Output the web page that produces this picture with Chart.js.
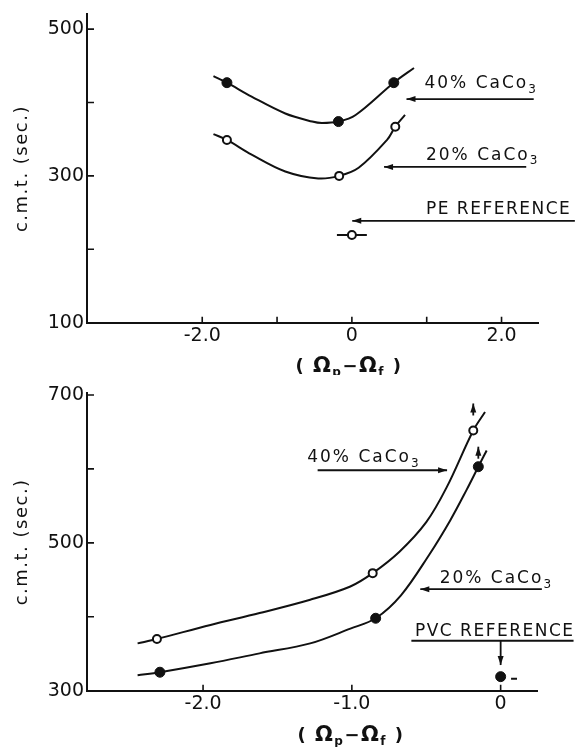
<!DOCTYPE html>
<html>
<head>
<meta charset="utf-8">
<script src="https://cdn.jsdelivr.net/npm/chart.js@4.4.1/dist/chart.umd.min.js"></script>
<style>
  html, body { margin: 0; padding: 0; background: #fff; }
  .panel { position: absolute; left: 0; width: 576px; }
  #topPanel { top: 0; height: 375px; }
  #botPanel { top: 375px; height: 372px; }
</style>
</head>
<body>
<div class="panel" id="topPanel"><canvas id="topChart" width="576" height="375"></canvas></div>
<div class="panel" id="botPanel"><canvas id="botChart" width="576" height="372"></canvas></div>
<script>
const INK = '#111';
const FAMILY = 'DejaVu Sans';

// ---- top panel: PE blends ----
const topXTicks = [-2, -1, 0, 1, 2];
const topXLabels = ['-2.0', '', '0', '', '2.0'];
const topYTicks = [100, 200, 300, 400, 500];
const topYLabels = ['100', '', '300', '', '500'];

const pe40X = [-1.67, -0.18, 0.56];
const pe40Y = [427, 374, 427];
const pe20X = [-1.67, -0.17, 0.58];
const pe20Y = [349, 300, 367];
const peRefX = [0];
const peRefY = [219.5];
const peRefBarX = [-0.2, 0.2];

// hand drawn curves
const pe40CurveX = [-1.85, -1.67, -1.34, -0.89, -0.53, -0.40, -0.18, 0.05, 0.56, 0.83];
const pe40CurveY = [436, 427, 408, 385, 374, 372, 374, 383, 427, 447];
const pe20CurveX = [-1.85, -1.67, -1.34, -0.89, -0.45, -0.17, 0.09, 0.47, 0.58, 0.71];
const pe20CurveY = [357, 349, 329, 306, 296.5, 300, 311, 349, 367, 383];

// ---- bottom panel: PVC blends ----
const botXTicks = [-2, -1, 0];
const botXLabels = ['-2.0', '-1.0', '0'];
const botYTicks = [300, 400, 500, 600, 700];
const botYLabels = ['300', '', '500', '', '700'];

const pvc40X = [-2.31, -0.86, -0.184];
const pvc40Y = [370, 459, 652];
const pvc20X = [-2.29, -0.84, -0.15];
const pvc20Y = [325, 398, 603];
const pvcRefX = [0];
const pvcRefY = [319];
const pvcRefDashX = [0.07, 0.11];
const pvcRefDashY = [316, 316];

const pvc40CurveX = [-2.44, -2.31, -1.95, -1.62, -1.28, -1.01, -0.86, -0.68, -0.50, -0.363, -0.184, -0.105];
const pvc40CurveY = [364, 370, 389, 405, 423, 441, 459, 488, 528, 575, 652, 677];
const pvc20CurveX = [-2.44, -2.29, -1.95, -1.62, -1.28, -1.01, -0.84, -0.67, -0.48, -0.34, -0.228, -0.15, -0.094];
const pvc20CurveY = [321, 325, 337, 350.5, 364, 384, 398, 429, 484, 530, 572, 603, 625];

const xy = (xs, ys) => xs.map((x, i) => ({ x: x, y: ys[i] }));

function curve(xs, ys) {
  return {
    data: xy(xs, ys), showLine: true, pointRadius: 0, borderColor: INK,
    borderWidth: 2, tension: 0.35, fill: false
  };
}
function marks(xs, ys, filled) {
  return {
    data: xy(xs, ys), showLine: false,
    pointRadius: filled ? 5 : 4,
    pointBackgroundColor: filled ? INK : '#fff',
    pointBorderColor: INK,
    pointBorderWidth: filled ? 1 : 2
  };
}
function segment(xs, ys) {
  return { data: xy(xs, ys), showLine: true, pointRadius: 0, borderColor: INK, borderWidth: 2 };
}

// inward tick marks on both axes
const inwardTicks = {
  id: 'inwardTicks',
  afterDraw(chart) {
    const ctx = chart.ctx, a = chart.chartArea;
    const sx = chart.scales.x, sy = chart.scales.y;
    ctx.save();
    ctx.strokeStyle = INK;
    ctx.lineWidth = 1.6;
    ctx.beginPath();
    sx.ticks.forEach(t => {
      const px = sx.getPixelForValue(t.value);
      ctx.moveTo(px, a.bottom);
      ctx.lineTo(px, a.bottom - 6);
    });
    sy.ticks.forEach(t => {
      const py = sy.getPixelForValue(t.value);
      ctx.moveTo(a.left, py);
      ctx.lineTo(a.left + 7, py);
    });
    ctx.stroke();
    ctx.restore();
  }
};

function drawArrow(ctx, x1, y1, x2, y2, head) {
  ctx.beginPath();
  ctx.moveTo(x1, y1);
  ctx.lineTo(x2, y2);
  ctx.stroke();
  if (!head) return;
  const ang = Math.atan2(y2 - y1, x2 - x1);
  const L = 9, W = 3;
  const c = Math.cos(ang), s = Math.sin(ang);
  ctx.beginPath();
  ctx.moveTo(x2, y2);
  ctx.lineTo(x2 - L * c + W * s, y2 - L * s - W * c);
  ctx.lineTo(x2 - L * c - W * s, y2 - L * s + W * c);
  ctx.closePath();
  ctx.fill();
}

function drawLabel(ctx, x, y, text, sub, spacing) {
  ctx.font = '17px "' + FAMILY + '"';
  ctx.letterSpacing = spacing + 'px';
  ctx.textAlign = 'left';
  ctx.textBaseline = 'middle';
  ctx.fillText(text, x, y);
  if (sub) {
    const w = ctx.measureText(text).width;
    ctx.font = '12px "' + FAMILY + '"';
    ctx.fillText(sub, x + w, y + 6);
  }
}

// x title "( Ωp − Ωf )" with subscripts
function drawXTitle(ctx, cx, baseY) {
  const main = 'bold 18px "' + FAMILY + '"';
  const omega = 'bold 21px "' + FAMILY + '"';
  const small = 'bold 12px "' + FAMILY + '"';
  const parts = [['( ', main, 0], ['Ω', omega, 0], ['p', small, 4], ['−', main, 0],
                 ['Ω', omega, 0], ['f', small, 4], [' )', main, 0]];
  ctx.letterSpacing = '1.5px';
  ctx.textAlign = 'left';
  ctx.textBaseline = 'alphabetic';
  let total = 0;
  parts.forEach(p => { ctx.font = p[1]; total += ctx.measureText(p[0]).width; });
  let x = cx - total / 2;
  parts.forEach(p => {
    ctx.font = p[1];
    ctx.fillText(p[0], x, baseY + p[2]);
    x += ctx.measureText(p[0]).width;
  });
}

function notesPlugin(cfg) {
  return {
    id: 'notes',
    afterDraw(chart) {
      const ctx = chart.ctx, a = chart.chartArea;
      const sx = chart.scales.x, sy = chart.scales.y;
      const X = v => sx.getPixelForValue(v), Y = v => sy.getPixelForValue(v);
      ctx.save();
      ctx.fillStyle = INK;
      ctx.strokeStyle = INK;
      ctx.lineWidth = 1.8;
      cfg.labels.forEach(l => drawLabel(ctx, X(l.x), Y(l.y), l.text, l.sub, l.spacing));
      cfg.arrows.forEach(r => drawArrow(ctx, X(r.x1), Y(r.y1), X(r.x2), Y(r.y2), r.head));
      (cfg.upArrows || []).forEach(u => {
        const px = X(u.x), py = Y(u.y);
        drawArrow(ctx, px, py - u.gap, px, py - u.gap - 12, true);
      });
      // y title
      ctx.save();
      ctx.translate(27, (a.top + a.bottom) / 2);
      ctx.rotate(-Math.PI / 2);
      ctx.font = '18px "' + FAMILY + '"';
      ctx.letterSpacing = '1.5px';
      ctx.textAlign = 'center';
      ctx.textBaseline = 'alphabetic';
      ctx.fillText('c.m.t. (sec.)', 0, 0);
      ctx.restore();
      drawXTitle(ctx, cfg.titleX, a.bottom + cfg.titleDy);
      ctx.restore();
    }
  };
}

function buildChart(id, o) {
  const tickFont = { family: FAMILY, size: 19 };
  return new Chart(document.getElementById(id), {
    type: 'scatter',
    data: { datasets: o.datasets },
    options: {
      responsive: false,
      animation: false,
      layout: { padding: o.padding },
      plugins: { legend: { display: false }, tooltip: { enabled: false } },
      scales: {
        x: {
          type: 'linear', min: o.xMin, max: o.xMax,
          grid: { display: false, drawTicks: false },
          border: { display: true, color: INK, width: 2 },
          afterBuildTicks: s => { s.ticks = o.xTicks.map(v => ({ value: v })); },
          afterFit: s => { s.height = o.xHeight; },
          ticks: {
            padding: 2, autoSkip: false, maxRotation: 0, color: INK, font: tickFont,
            callback: (v, i) => o.xLabels[i]
          }
        },
        y: {
          type: 'linear', min: o.yMin, max: o.yMax,
          grid: { display: false, drawTicks: false },
          border: { display: true, color: INK, width: 2 },
          afterBuildTicks: s => { s.ticks = o.yTicks.map(v => ({ value: v })); },
          afterFit: s => { s.width = 87; },
          ticks: {
            padding: 3, autoSkip: false, color: INK, font: tickFont,
            callback: (v, i) => o.yLabels[i]
          }
        }
      }
    },
    plugins: [inwardTicks, notesPlugin(o.notes)]
  });
}

buildChart('topChart', {
  xMin: -3.54, xMax: 2.49, yMin: 100, yMax: 520,
  xTicks: topXTicks, xLabels: topXLabels, yTicks: topYTicks, yLabels: topYLabels,
  padding: { top: 11.7, right: 37.8, left: 0, bottom: 0 },
  xHeight: 52.3,
  datasets: [
    marks(pe40X, pe40Y, true),
    marks(pe20X, pe20Y, false),
    marks(peRefX, peRefY, false),
    segment(peRefBarX, [peRefY[0], peRefY[0]]),
    curve(pe40CurveX, pe40CurveY),
    curve(pe20CurveX, pe20CurveY)
  ],
  notes: {
    titleX: 349, titleDy: 49,
    labels: [
      { x: 0.97, y: 425.7, text: '40% CaCo', sub: '3', spacing: 2 },
      { x: 0.99, y: 328, text: '20% CaCo', sub: '3', spacing: 2 },
      { x: 0.99, y: 253.6, text: 'PE REFERENCE', sub: '', spacing: 1.5 }
    ],
    arrows: [
      { x1: 2.43, y1: 404.6, x2: 0.73, y2: 404.6, head: true },
      { x1: 2.33, y1: 312.2, x2: 0.43, y2: 312.2, head: true },
      { x1: 2.98, y1: 238.8, x2: 0.005, y2: 238.8, head: true }
    ]
  }
});

buildChart('botChart', {
  xMin: -2.78, xMax: 0.245, yMin: 300, yMax: 702.7,
  xTicks: botXTicks, xLabels: botXLabels, yTicks: botYTicks, yLabels: botYLabels,
  padding: { top: 18, right: 38.9, left: 0, bottom: 0 },
  xHeight: 56.3,
  datasets: [
    marks(pvc40X, pvc40Y, false),
    marks(pvc20X, pvc20Y, true),
    marks(pvcRefX, pvcRefY, true),
    segment(pvcRefDashX, pvcRefDashY),
    curve(pvc40CurveX, pvc40CurveY),
    curve(pvc20CurveX, pvc20CurveY)
  ],
  notes: {
    titleX: 351, titleDy: 50,
    labels: [
      { x: -1.30, y: 615.4, text: '40% CaCo', sub: '3', spacing: 2 },
      { x: -0.41, y: 451.9, text: '20% CaCo', sub: '3', spacing: 2 },
      { x: -0.576, y: 379.7, text: 'PVC REFERENCE', sub: '', spacing: 1.5 }
    ],
    arrows: [
      { x1: -1.23, y1: 598.2, x2: -0.36, y2: 598.2, head: true },
      { x1: 0.277, y1: 437.4, x2: -0.54, y2: 437.4, head: true },
      { x1: -0.60, y1: 367.6, x2: 0.49, y2: 367.6, head: false },
      { x1: 0, y1: 367.6, x2: 0, y2: 334.7, head: true }
    ],
    upArrows: [
      { x: pvc40X[2], y: pvc40Y[2], gap: 15 },
      { x: pvc20X[2], y: pvc20Y[2], gap: 8 }
    ]
  }
});
</script>
</body>
</html>
